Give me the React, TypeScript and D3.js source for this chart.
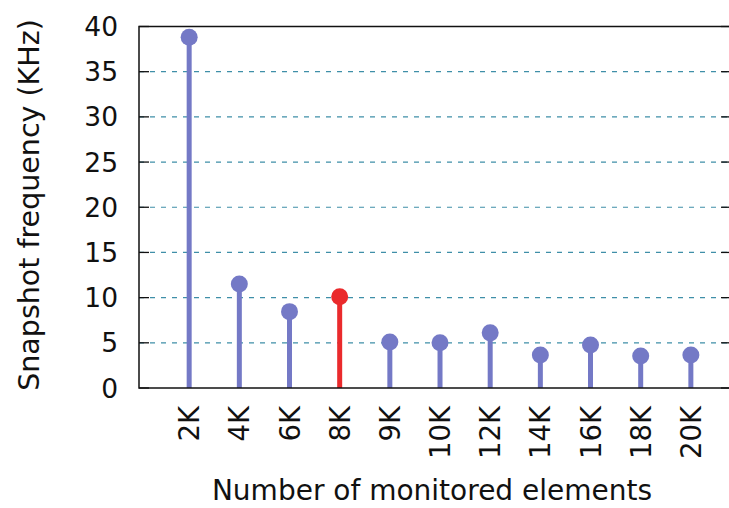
import React from "react";
import * as d3 from "d3";

const categories = ["2K", "4K", "6K", "8K", "9K", "10K", "12K", "14K", "16K", "18K", "20K"];
const values = [38.8, 11.5, 8.45, 10.1, 5.1, 5.0, 6.1, 3.65, 4.75, 3.55, 3.65];
const highlight = ["8K"];
const yTicks = [0, 5, 10, 15, 20, 25, 30, 35, 40];

const W = 729;
const H = 508;
const left = 139;
const right = 731;
const top = 26.5;
const bottom = 388;

export default function App() {
  const x = d3.scaleLinear().domain([-1, 10.8]).range([left, right]);
  const y = d3.scaleLinear().domain([0, 40]).range([bottom, top]);
  const font = "DejaVu Sans, sans-serif";
  const blue = "#7479c6";
  const red = "#ea2a2c";
  return (
    <svg width={W} height={H} style={{ position: "absolute", left: 0, top: 0, background: "#fff" }}>
      <rect x={0} y={0} width={W} height={H} fill="#fff" />
      {yTicks.filter(t => t > 0 && t < 40).map(t => (
        <line key={"g" + t} x1={left} x2={right} y1={y(t)} y2={y(t)} stroke="#3f8fa8" strokeWidth={1.2} strokeDasharray="5,6" />
      ))}
      {yTicks.map(t => (
        <g key={"t" + t}>
          <line x1={left} x2={left + 10} y1={y(t)} y2={y(t)} stroke="#111" strokeWidth={1.3} />
          <line x1={right - 10} x2={right} y1={y(t)} y2={y(t)} stroke="#111" strokeWidth={1.3} />
          <text x={118} y={y(t)} dy="0.36em" textAnchor="end" fontFamily={font} fontSize={26.5} fill="#111">{t}</text>
        </g>
      ))}
      {categories.map((c, i) => {
        const col = highlight.includes(c) ? red : blue;
        return (
          <g key={c}>
            <line x1={x(i)} x2={x(i)} y1={y(0)} y2={y(values[i])} stroke={col} strokeWidth={5} />
            <circle cx={x(i)} cy={y(values[i])} r={8.5} fill={col} />
            <text transform={`translate(${x(i) + 10},406) rotate(-90)`} textAnchor="end" fontFamily={font} fontSize={27.5} fill="#111">{c}</text>
          </g>
        );
      })}
      <rect x={left} y={top} width={right - left} height={bottom - top} fill="none" stroke="#111" strokeWidth={1.5} />
      <text transform={`translate(39,205) rotate(-90)`} textAnchor="middle" fontFamily={font} fontSize={28.5} fill="#111">Snapshot frequency (KHz)</text>
      <text x={432} y={500} textAnchor="middle" fontFamily={font} fontSize={28} fill="#111">Number of monitored elements</text>
    </svg>
  );
}
